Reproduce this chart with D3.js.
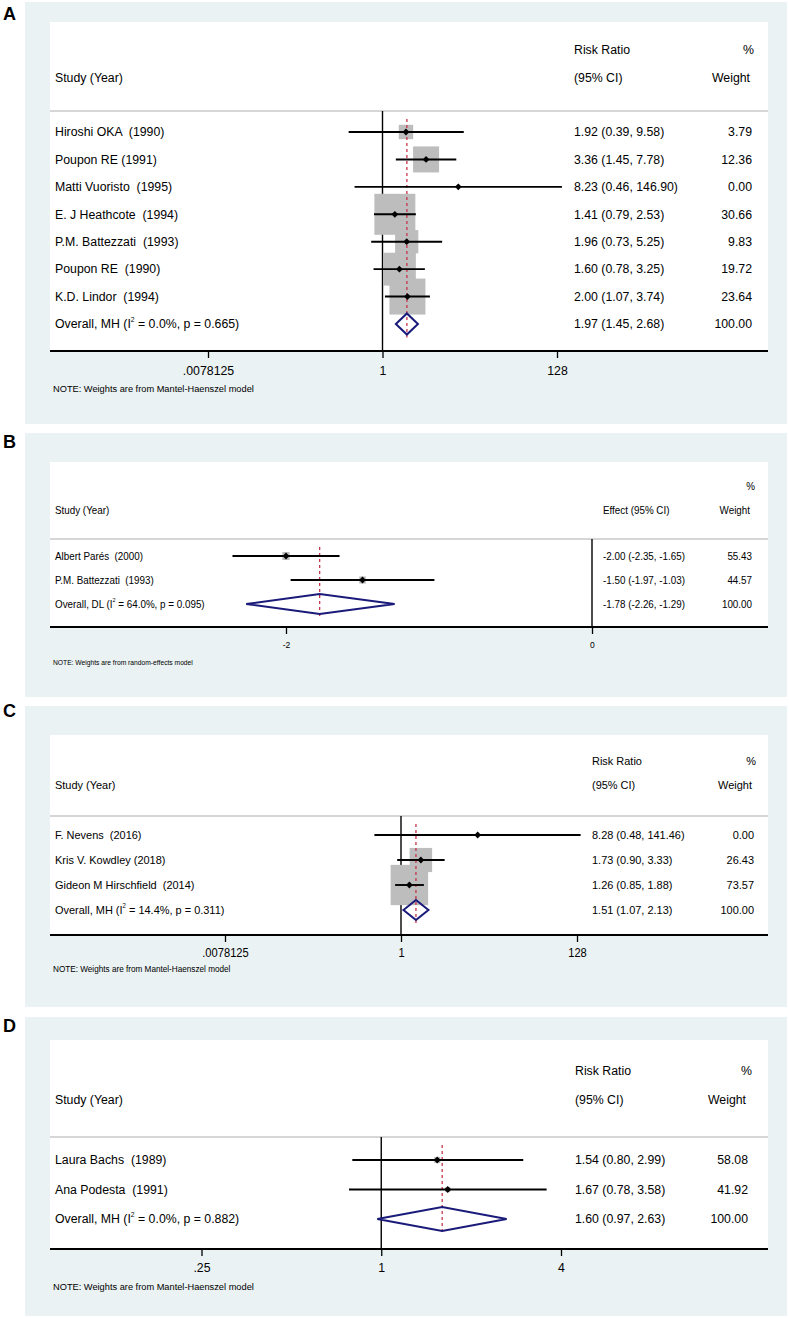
<!DOCTYPE html>
<html>
<head>
<meta charset="utf-8">
<script src="https://cdn.jsdelivr.net/npm/d3@7"></script>
<style>
  body { margin: 0; background: #fff; }
  text { font-family: "Liberation Sans", Arial, sans-serif; fill: #000; white-space: pre; }
</style>
</head>
<body>
<script>
// ---- panel A: risk ratio, MH model
var studiesA = ['Hiroshi OKA  (1990)', 'Poupon RE (1991)', 'Matti Vuoristo  (1995)', 'E. J Heathcote  (1994)',
  'P.M. Battezzati  (1993)', 'Poupon RE  (1990)', 'K.D. Lindor  (1994)']
var estA = [1.92, 3.36, 8.23, 1.41, 1.96, 1.60, 2.00]
var loA = [0.39, 1.45, 0.46, 0.79, 0.73, 0.78, 1.07]
var hiA = [9.58, 7.78, 146.90, 2.53, 5.25, 3.25, 3.74]
var wA = [3.79, 12.36, 0.00, 30.66, 9.83, 19.72, 23.64]
var overallA = [1.97, 1.45, 2.68]
var hetA = ['MH', '0.0%', '0.665']
var ticksA = [1 / 128, 1, 128]
var tickLabelsA = ['.0078125', '1', '128']

// ---- panel B: effect, random effects
var studiesB = ['Albert Parés  (2000)', 'P.M. Battezzati  (1993)']
var estB = [-2.00, -1.50]
var loB = [-2.35, -1.97]
var hiB = [-1.65, -1.03]
var wB = [55.43, 44.57]
var overallB = [-1.78, -2.26, -1.29]
var hetB = ['DL', '64.0%', '0.095']
var ticksB = [-2, 0]
var tickLabelsB = ['-2', '0']

// ---- panel C
var studiesC = ['F. Nevens  (2016)', 'Kris V. Kowdley (2018)', 'Gideon M Hirschfield  (2014)']
var estC = [8.28, 1.73, 1.26]
var loC = [0.48, 0.90, 0.85]
var hiC = [141.46, 3.33, 1.88]
var wC = [0.00, 26.43, 73.57]
var overallC = [1.51, 1.07, 2.13]
var hetC = ['MH', '14.4%', '0.311']
var ticksC = [1 / 128, 1, 128]
var tickLabelsC = ['.0078125', '1', '128']

// ---- panel D
var studiesD = ['Laura Bachs  (1989)', 'Ana Podesta  (1991)']
var estD = [1.54, 1.67]
var loD = [0.80, 0.78]
var hiD = [2.99, 3.58]
var wD = [58.08, 41.92]
var overallD = [1.60, 0.97, 2.63]
var hetD = ['MH', '0.0%', '0.882']
var ticksD = [0.25, 1, 4]
var tickLabelsD = ['.25', '1', '4']

var headRR = ['Risk Ratio', '(95% CI)']
var headEffect = ['', 'Effect (95% CI)']
var noteMH = 'NOTE: Weights are from Mantel-Haenszel model'
var noteRE = 'NOTE: Weights are from random-effects model'

// layout of each panel (pixels)
var panels = [
  { letter: 'A', names: studiesA, est: estA, lo: loA, hi: hiA, w: wA, overall: overallA, het: hetA,
    ticks: ticksA, tickLabels: tickLabelsA, head: headRR, note: noteMH, log: true,
    dom: [1 / 128, 128], rng: [208, 557],
    top: 2, bottom: 424, plotTop: 22, axisY: 351, sepY: 111, h1: 50, h2: 78, row0: 132, rowN: 324,
    ciX: 574, wtX: 752, pctX: 754, wlabX: 750, font: 12.3, noteFont: 9.25, tickFont: 12.3, tickPad: 8.5,
    noteY: 389, hs: 1, boxK: 7.4, dh: 10.5, letterY: 13 },
  { letter: 'B', names: studiesB, est: estB, lo: loB, hi: hiB, w: wB, overall: overallB, het: hetB,
    ticks: ticksB, tickLabels: tickLabelsB, head: headEffect, note: noteRE, log: false,
    dom: [-2, 0], rng: [286, 592],
    top: 433, bottom: 697, plotTop: 462, axisY: 627, sepY: 539, h1: 486, h2: 510, row0: 556, rowN: 604,
    ciX: 603, wtX: 752, pctX: 755, wlabX: 750, font: 10.7, noteFont: 7.3, tickFont: 9.3, tickPad: 7.5,
    noteY: 662, hs: 0.92, boxK: 1.07, dh: 10, letterY: 441 },
  { letter: 'C', names: studiesC, est: estC, lo: loC, hi: hiC, w: wC, overall: overallC, het: hetC,
    ticks: ticksC, tickLabels: tickLabelsC, head: headRR, note: noteMH, log: true,
    dom: [1 / 128, 128], rng: [225, 577],
    top: 706, bottom: 1007, plotTop: 735, axisY: 935, sepY: 816, h1: 761, h2: 785, row0: 835, rowN: 910,
    ciX: 592, wtX: 754, pctX: 756, wlabX: 752, font: 11.8, noteFont: 8.8, tickFont: 12, tickPad: 6.5,
    noteY: 969, hs: 0.93, boxK: 4.7, dh: 10, letterY: 710 },
  { letter: 'D', names: studiesD, est: estD, lo: loD, hi: hiD, w: wD, overall: overallD, het: hetD,
    ticks: ticksD, tickLabels: tickLabelsD, head: headRR, note: noteMH, log: true,
    dom: [0.25, 4], rng: [201.5, 561],
    top: 1017, bottom: 1316, plotTop: 1040, axisY: 1249, sepY: 1137, h1: 1071, h2: 1100, row0: 1160, rowN: 1219,
    ciX: 575, wtX: 748, pctX: 752, wlabX: 746, font: 12.3, noteFont: 9.25, tickFont: 12.3, tickPad: 7.5,
    noteY: 1287, hs: 1, boxK: 0.8, dh: 12, letterY: 1025 }
]

var W = 789, H = 1318
var outerL = 25, outerR = 787, plotL = 50, plotR = 768

var svg = d3.select('body').append('svg')
  .attr('width', W).attr('height', H)

function txt(g, x, y, s, size, hs, anchor) {
  return g.append('text')
    .attr('transform', 'translate(' + x + ',' + y + ') scale(' + hs + ',1)')
    .attr('font-size', size)
    .attr('text-anchor', anchor || 'start')
    .attr('dy', '0.35em')
    .text(s)
}

function fmt(v) { return v.toFixed(2) }

function diamondPath(cx, cy, r) {
  return 'M' + (cx - r) + ',' + cy + 'L' + cx + ',' + (cy - r) + 'L' + (cx + r) + ',' + cy + 'L' + cx + ',' + (cy + r) + 'Z'
}

panels.forEach(function(p) {
  var g = svg.append('g').attr('class', 'panel-' + p.letter)

  // graph region + plot region
  g.append('rect').attr('x', outerL).attr('y', p.top)
    .attr('width', outerR - outerL).attr('height', p.bottom - p.top).attr('fill', '#eaf2f3')
  g.append('rect').attr('x', plotL).attr('y', p.plotTop)
    .attr('width', plotR - plotL).attr('height', p.axisY - p.plotTop).attr('fill', '#fff')

  g.append('text').attr('x', 3).attr('y', p.letterY + 6.5)
    .attr('font-size', 18).attr('font-weight', 'bold').text(p.letter)

  var x = (p.log ? d3.scaleLog().base(2) : d3.scaleLinear()).domain(p.dom).range(p.rng)
  var n = p.names.length
  var y = d3.scalePoint().domain(d3.range(n + 1)).range([p.row0, p.rowN])

  // header
  txt(g, 55, p.h2, 'Study (Year)', p.font, p.hs)
  if (p.head[0]) txt(g, p.ciX, p.h1, p.head[0], p.font, p.hs)
  txt(g, p.ciX, p.h2, p.head[1], p.font, p.hs)
  txt(g, p.pctX, p.h1, '%', p.font, p.hs, 'end')
  txt(g, p.wlabX, p.h2, 'Weight', p.font, p.hs, 'end')

  g.append('line').attr('x1', plotL).attr('x2', plotR)
    .attr('y1', p.sepY).attr('y2', p.sepY)
    .attr('stroke', '#c9c9c9').attr('stroke-width', 1.5)

  // null line
  g.append('line').attr('x1', x(p.log ? 1 : 0)).attr('x2', x(p.log ? 1 : 0))
    .attr('y1', p.sepY).attr('y2', p.axisY)
    .attr('stroke', '#000').attr('stroke-width', 1.4)

  var rows = d3.range(n)

  // weight boxes
  g.selectAll('.box').data(rows.filter(function(i) { return p.w[i] > 0 })).enter()
    .append('rect').attr('class', 'box')
    .attr('x', function(i) { return x(p.est[i]) - p.boxK * Math.sqrt(p.w[i]) * p.hs / 2 })
    .attr('y', function(i) { return y(i) - p.boxK * Math.sqrt(p.w[i]) / 2 })
    .attr('width', function(i) { return p.boxK * Math.sqrt(p.w[i]) * p.hs })
    .attr('height', function(i) { return p.boxK * Math.sqrt(p.w[i]) })
    .attr('fill', '#bdbdbd')

  // overall dashed line
  g.append('line').attr('x1', x(p.overall[0])).attr('x2', x(p.overall[0]))
    .attr('y1', p.sepY + 8).attr('y2', p.rowN + p.dh + 3)
    .attr('stroke', '#c8344a').attr('stroke-width', 1.3).attr('stroke-dasharray', '3,3')

  // CI lines
  g.selectAll('.ci').data(rows).enter().append('line').attr('class', 'ci')
    .attr('x1', function(i) { return x(p.lo[i]) })
    .attr('x2', function(i) { return x(p.hi[i]) })
    .attr('y1', function(i) { return y(i) }).attr('y2', function(i) { return y(i) })
    .attr('stroke', '#000').attr('stroke-width', 1.9)

  // point estimates
  g.selectAll('.pt').data(rows).enter().append('path').attr('class', 'pt')
    .attr('d', function(i) { return diamondPath(x(p.est[i]), y(i), 3.4) })
    .attr('fill', '#000')

  // overall diamond
  var oy = y(n)
  g.append('path')
    .attr('d', 'M' + x(p.overall[1]) + ',' + oy + 'L' + x(p.overall[0]) + ',' + (oy - p.dh) +
      'L' + x(p.overall[2]) + ',' + oy + 'L' + x(p.overall[0]) + ',' + (oy + p.dh) + 'Z')
    .attr('fill', 'none').attr('stroke', '#1a1a7a').attr('stroke-width', 2)

  // row texts
  rows.forEach(function(i) {
    txt(g, 55, y(i), p.names[i], p.font, p.hs)
    txt(g, p.ciX, y(i), fmt(p.est[i]) + ' (' + fmt(p.lo[i]) + ', ' + fmt(p.hi[i]) + ')', p.font, p.hs)
    txt(g, p.wtX, y(i), fmt(p.w[i]), p.font, p.hs, 'end')
  })
  var ot = txt(g, 55, oy, '', p.font, p.hs)
  ot.append('tspan').text('Overall, ' + p.het[0] + ' (I')
  ot.append('tspan').attr('font-size', p.font * 0.55).attr('dy', '-0.9em').text('2')
  ot.append('tspan').attr('dy', '0.5em').text(' = ' + p.het[1] + ', p = ' + p.het[2] + ')')
  txt(g, p.ciX, oy, fmt(p.overall[0]) + ' (' + fmt(p.overall[1]) + ', ' + fmt(p.overall[2]) + ')', p.font, p.hs)
  txt(g, p.wtX, oy, '100.00', p.font, p.hs, 'end')

  // axis
  var ax = g.append('g').attr('transform', 'translate(0,' + p.axisY + ')')
    .call(d3.axisBottom(x).tickValues(p.ticks)
      .tickFormat(function(d, i) { return p.tickLabels[i] })
      .tickSize(7).tickPadding(p.tickPad))
  ax.select('.domain').remove()
  ax.selectAll('.tick line').attr('stroke', '#000').attr('stroke-width', 1.3)
  ax.selectAll('.tick text').attr('font-size', p.tickFont)
    .attr('font-family', '"Liberation Sans", Arial, sans-serif')
    .attr('transform', 'scale(' + p.hs + ',1)')
  g.append('line').attr('x1', plotL).attr('x2', plotR)
    .attr('y1', p.axisY).attr('y2', p.axisY)
    .attr('stroke', '#000').attr('stroke-width', 1.9)

  txt(g, 53, p.noteY, p.note, p.noteFont, p.hs)
})
</script>
</body>
</html>
